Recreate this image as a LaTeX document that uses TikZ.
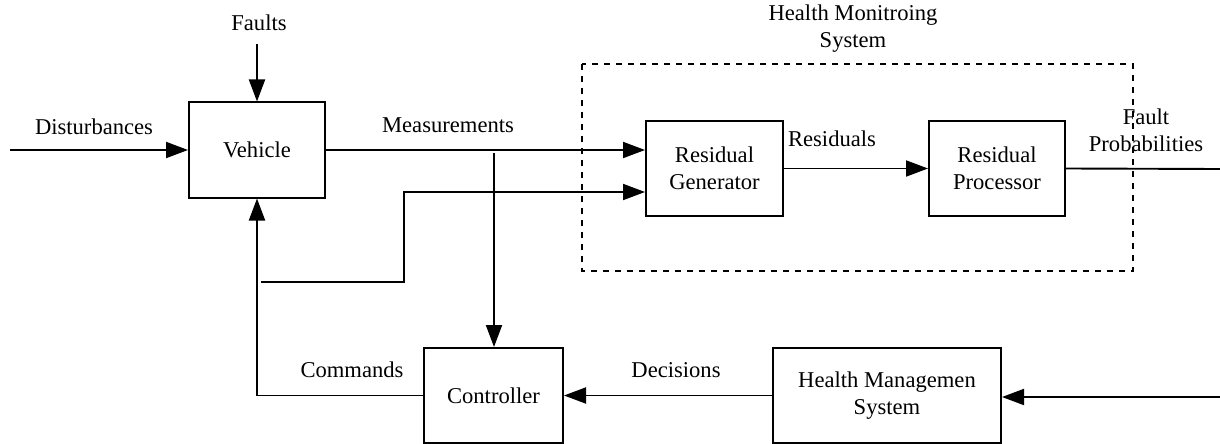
\documentclass[tikz,border=0pt]{standalone}
\usepackage{fontspec}
\setmainfont{Liberation Serif}
\usetikzlibrary{arrows.meta,calc}
\begin{document}
\begin{tikzpicture}[x=0.5pt,y=-0.5pt,
  every node/.style={font=\fontsize{11.3}{13.5}\selectfont},
  blockbox/.style={draw,line width=1pt,align=center,inner sep=0pt,minimum height=47.5pt},
  lbl/.style={align=center,inner sep=0pt},
  conn/.style={line width=0.95pt},
  arr/.style={conn,-{Triangle[length=11pt,width=8pt]}},
  groupbox/.style={draw,line width=0.75pt,dash pattern=on 3pt off 3pt}]
\useasboundingbox (0,0) rectangle (1220,444);
% blocks
\node[blockbox,minimum width=68pt] (vehicle) at (257,150) {Vehicle};
\node[blockbox,minimum width=68.5pt] (resgen) at (714.5,168.5) {Residual\\Generator};
\node[blockbox,minimum width=68pt] (resproc) at (997,168.5) {Residual\\Processor};
\node[blockbox,minimum width=69.5pt] (controller) at (493.5,395.5) {Controller};
\node[blockbox,minimum width=114pt] (hms) at (887,395.5) {Health Managemen\\System};
% dashed group
\draw[groupbox] (582,64) rectangle (1133,271);
% labels
\node[lbl] (lfaults) at (259,23) {Faults};
\node[lbl] (ldist) at (94,127) {Disturbances};
\node[lbl] (lmeas) at (448,125) {Measurements};
\node[lbl] (lres) at (832,139) {Residuals};
\node[lbl] (lcmd) at (352,370) {Commands};
\node[lbl] (ldec) at (676,370) {Decisions};
\node[lbl] (lfp) at (1146,130) {Fault\\Probabilities};
\node[lbl] (lhms) at (853,29) {Health Monitroing\\System};
% free ends
\coordinate (distin) at (10,150);
\coordinate (faultin) at (257,44);
\coordinate (mtap) at (494,153);
\coordinate (fbstart) at (261,282);
\coordinate (fbbend) at (404,282);
\coordinate (rg2) at ([yshift=-11.75pt]resgen.west);
\coordinate (fpout) at (1220,169);
\coordinate (hmsin) at (1220,397);
% connectors
\draw[arr] (distin) -- (vehicle.west);
\draw[arr] (faultin) -- (vehicle.north);
\draw[arr] (vehicle.east) -- (vehicle.east -| resgen.west);
\draw[arr] (mtap) -- (mtap |- controller.north);
\draw[arr] (fbstart) -- (fbbend) |- (rg2);
\draw[arr] (resgen.east) -- (resproc.west);
\draw[conn] (resproc.east) -- (fpout);
\draw[arr] (hmsin) -- (hmsin -| hms.east);
\draw[arr] (hms.west) -- (controller.east);
\draw[arr] (controller.west) -| (vehicle.south);
\end{tikzpicture}
\end{document}
